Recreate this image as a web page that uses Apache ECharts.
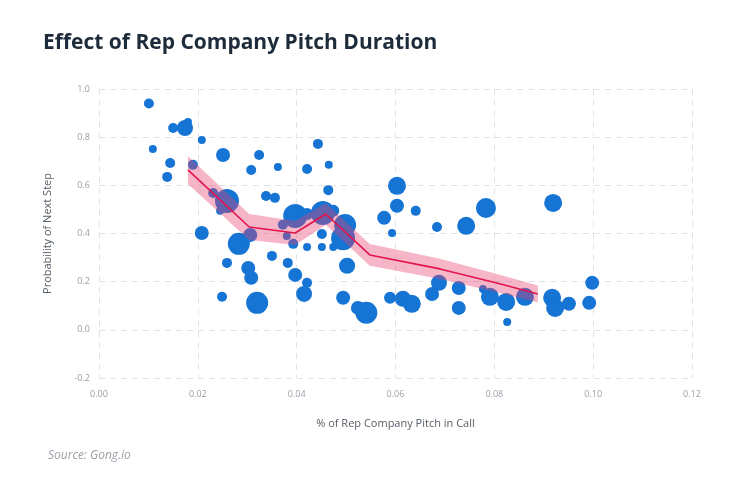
<!DOCTYPE html>
<html>
<head>
<meta charset="utf-8">
<script src="https://cdn.jsdelivr.net/npm/echarts@6/dist/echarts.min.js"></script>
<style>
html,body{margin:0;padding:0;background:#fff;}
#chart{width:730px;height:499px;}
</style>
</head>
<body>
<div id="chart"></div>
<script>
// Bubble data: [x, y, size]
var bubbleX = [0.0101,0.0109,0.0150,0.0144,0.0138,0.0174,0.0180,0.0208,0.0190,0.0251,
  0.0324,0.0308,0.0362,0.0231,0.0259,0.0245,0.0208,0.0283,0.0306,0.0259,
  0.0302,0.0308,0.0249,0.0320,0.0338,0.0356,0.0350,0.0372,0.0397,0.0380,
  0.0393,0.0421,0.0451,0.0421,0.0451,0.0474,0.0453,0.0474,0.0498,0.0494,
  0.0502,0.0382,0.0397,0.0421,0.0415,0.0494,0.0524,0.0541,0.0464,0.0443,
  0.0421,0.0465,0.0603,0.0603,0.0641,0.0577,0.0684,0.0593,0.0589,0.0615,
  0.0633,0.0674,0.0688,0.0783,0.0743,0.0919,0.0728,0.0728,0.0777,0.0791,
  0.0824,0.0826,0.0862,0.0917,0.0923,0.0951,0.0992,0.0998];
var bubbleY = [0.940,0.751,0.838,0.693,0.635,0.838,0.863,0.788,0.685,0.726,
  0.726,0.664,0.676,0.568,0.535,0.494,0.402,0.357,0.394,0.278,
  0.257,0.216,0.137,0.112,0.556,0.548,0.307,0.436,0.473,0.390,
  0.357,0.481,0.398,0.344,0.344,0.344,0.485,0.494,0.435,0.380,
  0.266,0.278,0.228,0.195,0.149,0.133,0.091,0.071,0.580,0.772,
  0.668,0.685,0.598,0.515,0.494,0.465,0.427,0.402,0.133,0.129,
  0.108,0.149,0.195,0.506,0.432,0.527,0.174,0.091,0.170,0.137,
  0.116,0.033,0.137,0.133,0.091,0.108,0.112,0.195];
var bubbleSize = [5,4,5,5,5,8,4,4,5,7,
  5,5,4,5,12,4,7,11,7,5,
  7,7,5,11,5,5,5,5,12,4,
  5,6,5,4,4,4,12,6,11,12,
  8,5,7,5,8,7,7,11,5,5,
  5,4,9,7,5,7,5,4,6,8,
  9,7,8,10,9,9,7,7,4,9,
  9,4,9,9,9,7,7,7];

// Trend line and confidence band
var lineX = [0.0180,0.0304,0.0397,0.0459,0.0548,0.0690,0.0811,0.0888];
var lineY = [0.664,0.427,0.402,0.481,0.311,0.253,0.191,0.149];
var bandLow = [0.606,0.373,0.352,0.436,0.266,0.211,0.153,0.114];
var bandHigh = [0.722,0.481,0.452,0.526,0.356,0.295,0.229,0.184];

var xTicks = [0,0.02,0.04,0.06,0.08,0.10,0.12];
var yTicks = [-0.2,0,0.2,0.4,0.6,0.8,1.0];

var scatterData = bubbleX.map(function(x,i){ return [x, bubbleY[i], bubbleSize[i]]; });
var lineData = lineX.map(function(x,i){ return [x, lineY[i]]; });

var chart = echarts.init(document.getElementById('chart'), null, {renderer:'canvas'});
var gridLine = {show:true, lineStyle:{color:'#dfe4ea', type:[6,5], width:1}};
chart.setOption({
  animation:false,
  title:{
    text:'Effect of Rep Company Pitch Duration',
    left:38, top:28,
    textStyle:{fontFamily:'Open Sans', fontWeight:'bold', fontSize:21, color:'#1d2b3a'}
  },
  graphic:[{
    type:'text', left:48, top:450,
    style:{text:'Source: Gong.io', fontFamily:'Open Sans', fontStyle:'italic', fontSize:12, fill:'#9aa0a8'}
  }],
  grid:{left:99, right:38, top:89, bottom:121},
  xAxis:{
    type:'value', min:xTicks[0], max:xTicks[xTicks.length-1], interval:0.02,
    name:'% of Rep Company Pitch in Call', nameLocation:'middle', nameGap:40,
    nameTextStyle:{fontFamily:'Open Sans', fontSize:11, color:'#555d66'},
    axisLine:{show:false}, axisTick:{show:false},
    axisLabel:{margin:12, fontFamily:'Open Sans', fontSize:9, color:'#9aa0a8',
      formatter:function(v){return v.toFixed(2);}},
    splitLine:gridLine
  },
  yAxis:{
    type:'value', min:yTicks[0], max:yTicks[yTicks.length-1], interval:0.2,
    name:'Probability of Next Step', nameLocation:'middle', nameGap:46,
    nameTextStyle:{fontFamily:'Open Sans', fontSize:11, color:'#555d66'},
    axisLine:{show:false}, axisTick:{show:false},
    axisLabel:{margin:9, fontFamily:'Open Sans', fontSize:9, color:'#9aa0a8',
      formatter:function(v){return v.toFixed(1);}},
    splitLine:gridLine
  },
  series:[
    {
      type:'scatter', data:scatterData, z:2,
      symbolSize:function(d){return d[2]*2;},
      itemStyle:{color:'#1574d4', opacity:1}
    },
    {
      type:'custom', z:3, silent:true,
      data:[0],
      renderItem:function(params, api){
        var pts = [];
        for (var i=0;i<lineX.length;i++) pts.push(api.coord([lineX[i], bandHigh[i]]));
        for (var j=lineX.length-1;j>=0;j--) pts.push(api.coord([lineX[j], bandLow[j]]));
        return {type:'polygon', shape:{points:pts},
          style:{fill:'#e8406f', opacity:0.38}};
      }
    },
    {
      type:'line', data:lineData, symbol:'none', z:4,
      lineStyle:{color:'#e3134b', width:1.6}
    }
  ]
});
</script>
</body>
</html>
